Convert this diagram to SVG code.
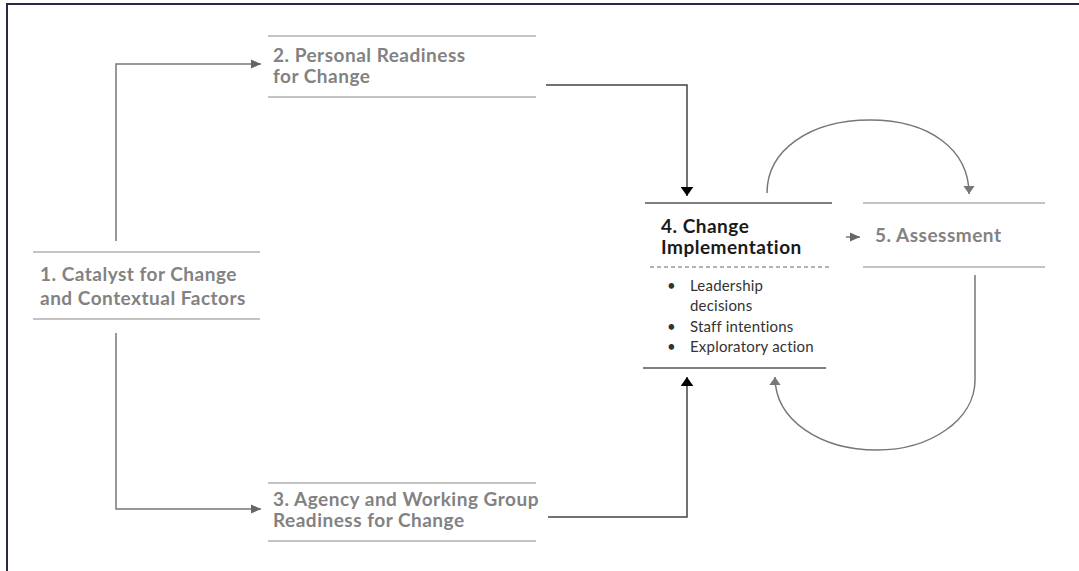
<svg xmlns="http://www.w3.org/2000/svg" width="1079" height="571" viewBox="0 0 1079 571">
<style>
.frame{fill:none;stroke:#2b2847;stroke-width:2}
.rule{stroke:#b0b0b0;stroke-width:1.5;fill:none}
.rule4{stroke:#555;stroke-width:1.5;fill:none}
.dash{stroke:#666;stroke-width:1.2;stroke-dasharray:4 3;fill:none}
.t{font-family:Lato,"Noto Sans",sans-serif;font-weight:700;font-size:19px;letter-spacing:0.5px;fill:#828282}
.t4{font-family:Lato,"Noto Sans",sans-serif;font-weight:700;font-size:19px;letter-spacing:0.5px;fill:#1a1a1a}
.b{font-family:Lato,"Noto Sans",sans-serif;font-size:15px;letter-spacing:0.2px;fill:#333}
.c{fill:none;stroke:#777;stroke-width:1.5}
.cd{fill:none;stroke:#444;stroke-width:1.5}
</style>
<defs>
<marker id="ag" viewBox="0 0 10 10" refX="10" refY="5" markerWidth="10" markerHeight="10" markerUnits="userSpaceOnUse" orient="auto"><path d="M0,0.5L10,5L0,9.5z" fill="#666"/></marker>
<marker id="ak" viewBox="0 0 10 14" refX="10" refY="7" markerWidth="9" markerHeight="13" markerUnits="userSpaceOnUse" orient="auto"><path d="M0,0L10,7L0,14z" fill="#000"/></marker>
<marker id="al" viewBox="0 0 10 14" refX="10" refY="7" markerWidth="8" markerHeight="13" markerUnits="userSpaceOnUse" orient="auto"><path d="M0,0L10,7L0,14z" fill="#777"/></marker>
</defs>
<rect width="1079" height="571" fill="#fff"/>
<path class="frame" d="M7,571V4H1079"/>
<g id="connectors">
<path class="c" d="M116,241V64H261" marker-end="url(#ag)"/>
<path class="c" d="M116,333V509H261" marker-end="url(#ag)"/>
<path class="cd" d="M546,85H687V196" marker-end="url(#ak)"/>
<path class="cd" d="M548,517H687V377" marker-end="url(#ak)"/>
<path class="c" d="M767,193C767,150 810,120 870,120C930,120 969,150 969,194" marker-end="url(#al)"/>
<path class="c" d="M975,275V380C975,420 930,450 877,450C820,450 775,420 775,377" marker-end="url(#al)"/>
<path class="c" d="M846,237H860" marker-end="url(#ag)"/>
</g>
<g id="node1">
<line class="rule" x1="33" y1="252" x2="260" y2="252"/>
<line class="rule" x1="33" y1="319" x2="260" y2="319"/>
<text class="t" x="40" y="281">1. Catalyst for Change</text>
<text class="t" x="40" y="305">and Contextual Factors</text>
</g>
<g id="node2">
<line class="rule" x1="268" y1="36" x2="536" y2="36"/>
<line class="rule" x1="268" y1="97" x2="536" y2="97"/>
<text class="t" x="273" y="62">2. Personal Readiness</text>
<text class="t" x="273" y="83">for Change</text>
</g>
<g id="node3">
<line class="rule" x1="268" y1="483" x2="536" y2="483"/>
<line class="rule" x1="268" y1="541" x2="536" y2="541"/>
<text class="t" x="273" y="506">3. Agency and Working Group</text>
<text class="t" x="273" y="527">Readiness for Change</text>
</g>
<g id="node4">
<line class="rule4" x1="645" y1="203" x2="832" y2="203"/>
<text class="t4" x="661" y="233">4. Change</text>
<text class="t4" x="661" y="254">Implementation</text>
<line class="dash" x1="650" y1="267" x2="832" y2="267"/>
<text class="b" x="667" y="291">•</text>
<text class="b" x="690" y="291">Leadership</text>
<text class="b" x="690" y="311">decisions</text>
<text class="b" x="667" y="332">•</text>
<text class="b" x="690" y="332">Staff intentions</text>
<text class="b" x="667" y="352">•</text>
<text class="b" x="690" y="352">Exploratory action</text>
<line class="rule4" x1="643" y1="368" x2="826" y2="368"/>
</g>
<g id="node5">
<line class="rule" x1="863" y1="203" x2="1045" y2="203"/>
<line class="rule" x1="863" y1="267" x2="1045" y2="267"/>
<text class="t" x="875" y="242">5. Assessment</text>
</g>
</svg>
